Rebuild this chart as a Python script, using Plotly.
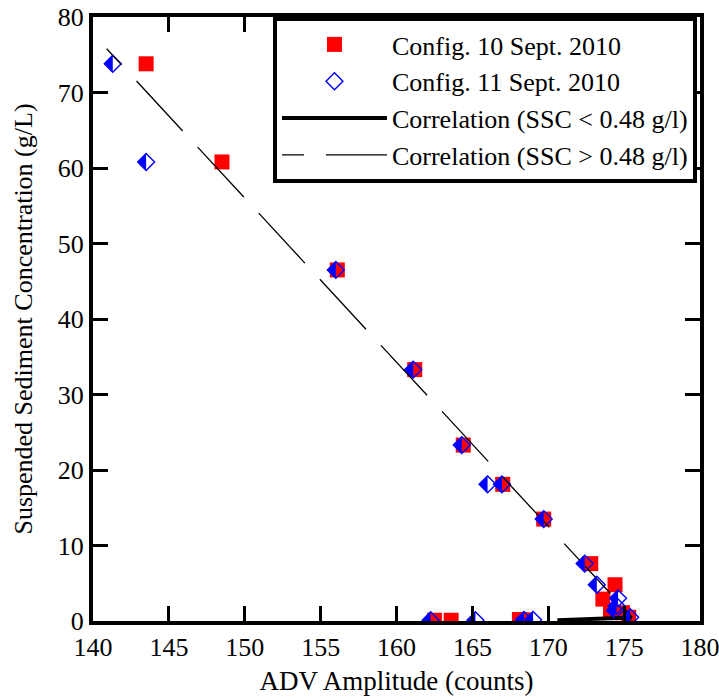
import plotly.graph_objects as go

# Config. 10 Sept. 2010 (red squares)
sep10_amp = [143.5, 148.5, 156.1, 161.2, 164.4, 167.0, 169.7, 172.8, 174.4, 173.6,
             174.1, 174.9, 175.3, 162.5, 163.6, 168.1, 168.5]
sep10_ssc = [73.8, 60.8, 46.5, 33.3, 23.3, 18.1, 13.5, 7.6, 4.8, 2.9,
             1.3, 1.1, 0.5, 0.1, 0.1, 0.2, 0.15]

# Config. 11 Sept. 2010 (blue half-filled diamonds)
sep11_amp = [141.3, 143.5, 156.0, 161.1, 164.3, 166.0, 166.95, 169.7, 172.4, 173.2,
             174.6, 174.5, 174.4, 175.4, 162.25, 165.2, 168.4, 169.0]
sep11_ssc = [73.8, 60.8, 46.5, 33.3, 23.3, 18.1, 18.1, 13.5, 7.6, 4.8,
             3.0, 2.0, 1.4, 0.5, 0.1, 0.1, 0.15, 0.15]

# Correlation lines
corr_low_amp = [170.6, 175.5]
corr_low_ssc = [0.1, 0.48]
corr_high_amp = [140.9, 175.55]
corr_high_ssc = [75.8, 0.48]

x_ticks = [140, 145, 150, 155, 160, 165, 170, 175, 180]
y_ticks = [0, 10, 20, 30, 40, 50, 60, 70, 80]
x_range = [140, 180]
y_range = [0, 80]

FONT = "Liberation Serif"
BLUE = "#0000ff"
RED = "#ff0000"

FIG_W, FIG_H = 719, 700
M_L, M_R, M_T, M_B = 93, 19, 17, 79

DIAMOND_SIZE = 13
# filled left half of the diamond: a right-isoceles triangle, rotated, shifted so its
# hypotenuse sits on the diamond's vertical diagonal
half_diag_px = 0.65 * DIAMOND_SIZE
tri_size = 2 * 0.7857 * half_diag_px
plot_w_px = FIG_W - M_L - M_R
shift_units = (half_diag_px / 3) / (plot_w_px / (x_range[1] - x_range[0]))

DASH = "22px,22px" + ",68px,22px" * 8

fig = go.Figure()

fig.add_trace(go.Scatter(
    x=sep10_amp, y=sep10_ssc, mode="markers", name="Config. 10 Sept. 2010",
    marker=dict(symbol="square", size=15, color=RED, line=dict(width=0)),
))
fig.add_trace(go.Scatter(
    x=sep11_amp, y=sep11_ssc, mode="markers", name="Config. 11 Sept. 2010",
    legendgroup="s11", showlegend=False, xaxis="x2",
    marker=dict(symbol="triangle-ne", size=tri_size, angle=225, color=BLUE, line=dict(width=0)),
))
fig.add_trace(go.Scatter(
    x=sep11_amp, y=sep11_ssc, mode="markers", name="Config. 11 Sept. 2010",
    legendgroup="s11",
    marker=dict(symbol="diamond-open", size=DIAMOND_SIZE, color=BLUE, line=dict(width=1.4, color=BLUE)),
))
fig.add_trace(go.Scatter(
    x=corr_low_amp, y=corr_low_ssc, mode="lines", name="Correlation (SSC < 0.48 g/l)",
    line=dict(color="black", width=4),
))
fig.add_trace(go.Scatter(
    x=corr_high_amp, y=corr_high_ssc, mode="lines", name="Correlation (SSC > 0.48 g/l)",
    line=dict(color="black", width=1.3, dash=DASH),
))

axis_common = dict(
    showline=True, linewidth=4, linecolor="black", mirror="ticks",
    ticks="inside", ticklen=15, tickwidth=3, tickcolor="black",
    showgrid=False, zeroline=False, automargin=False,
    ticklabeloverflow="allow",
    tickfont=dict(family=FONT, size=26, color="black"),
)

fig.update_layout(
    width=FIG_W, height=FIG_H,
    margin=dict(l=M_L, r=M_R, t=M_T, b=M_B),
    paper_bgcolor="white", plot_bgcolor="white",
    font=dict(family=FONT, size=26, color="black"),
    xaxis=dict(range=x_range, tickvals=x_ticks, ticktext=[str(v) for v in x_ticks],
               title=dict(text="ADV Amplitude (counts)", font=dict(family=FONT, size=27), standoff=11),
               **axis_common),
    xaxis2=dict(range=[x_range[0] + shift_units, x_range[1] + shift_units],
                overlaying="x", visible=False),
    yaxis=dict(range=y_range, tickvals=y_ticks, ticktext=[str(v) for v in y_ticks],
               title=dict(text="Suspended Sediment Concentration (g/L)", font=dict(family=FONT, size=26), standoff=19),
               **axis_common),
    legend=dict(x=0.995, y=1, xanchor="right", yanchor="top",
                bgcolor="white", bordercolor="black", borderwidth=4,
                font=dict(family=FONT, size=26, color="black"),
                itemwidth=105, tracegroupgap=0),
    showlegend=True,
)

fig.write_html("out.html", post_script="document.body.style.margin='0';",
               config={"displayModeBar": False})
